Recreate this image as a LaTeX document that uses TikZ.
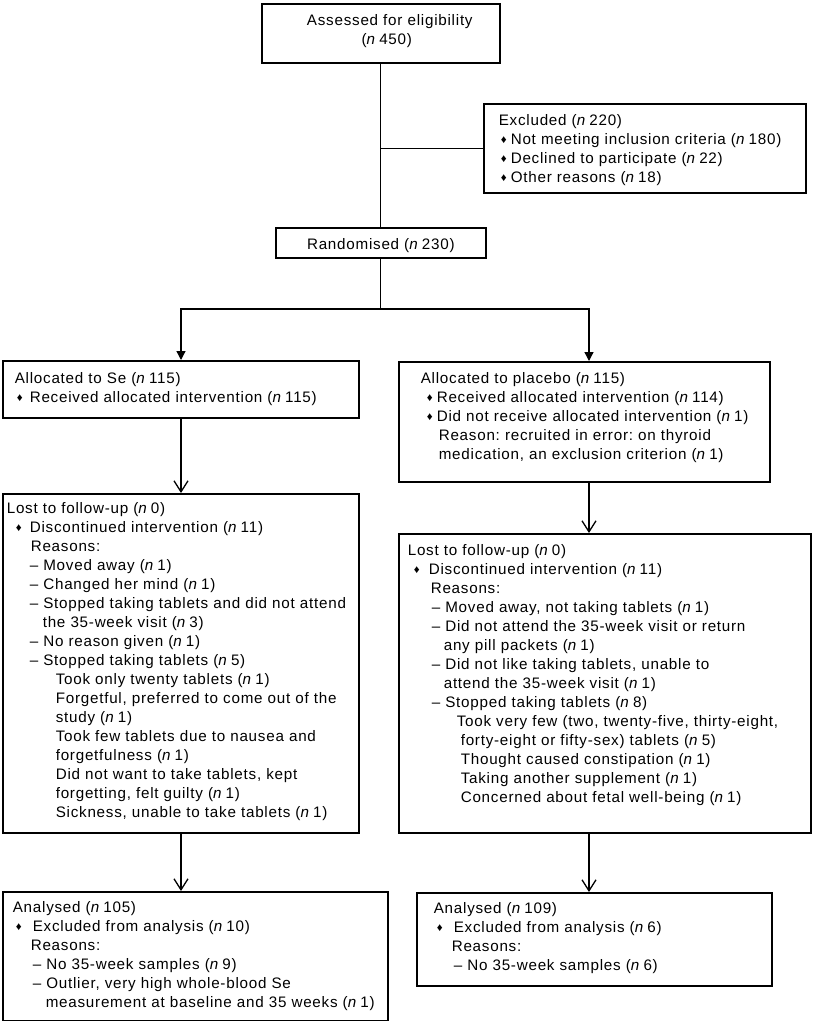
\documentclass[tikz,border=0pt]{standalone}
\usepackage{fontspec}
\setmainfont{Liberation Sans}[LetterSpace=5]
\usetikzlibrary{arrows.meta}
\frenchspacing
\newcommand{\flowfont}{\fontsize{15.2}{19}\selectfont}
\newcommand{\nval}[1]{(\textit{n}\hspace{0.22em}#1)}
\newcommand{\dmd}{{\fontsize{11.5}{11.5}\selectfont\raisebox{1pt}{♦}}}
\newcommand{\bul}[2]{\hspace*{#1pt}\makebox[#2pt][l]{\dmd}}
\newcommand{\indt}[1]{\hspace*{#1pt}}
\begin{document}
\begin{tikzpicture}[x=1pt, y=-1pt,
    box/.style={draw, line width=1.6pt, anchor=north west, inner ysep=0pt, font=\flowfont},
    link/.style={line width=1.3pt},
    filltip/.style={link, -{Triangle[length=9pt, width=9pt]}},
    opentip/.style={link, -{Straight Barb[length=11pt, width=14pt]}}]
  \useasboundingbox (0,0) rectangle (812,1021);
  \node[box, align=center, text width=238pt, inner xsep=0pt, text height=22pt, text depth=37pt]
    (elig) at (261,3) {\begin{tabular}[t]{@{}c@{}}\indt{18}Assessed for eligibility\\ \indt{12}\nval{450}\end{tabular}};
  \node[box, text width=292pt, inner xsep=15pt, text height=22pt, text depth=67pt]
    (excl) at (483,103) {\noindent\begin{tabular}[t]{@{}l@{}}
      Excluded \nval{220}\\
      \bul{2}{10}Not meeting inclusion criteria \nval{180}\\
      \bul{2}{10}Declined to participate \nval{22}\\
      \bul{2}{10}Other reasons \nval{18}
    \end{tabular}};
  \node[box, align=center, text width=210pt, inner xsep=0pt, text height=22pt, text depth=8pt]
    (rand) at (275,227) {\begin{tabular}[t]{@{}c@{}}Randomised \nval{230}\end{tabular}};
  \node[box, text width=332pt, inner xsep=12pt, text height=23pt, text depth=34pt]
    (se) at (2,360) {\noindent\begin{tabular}[t]{@{}l@{}}
      Allocated to Se \nval{115}\\
      \bul{2}{13}Received allocated intervention \nval{115}
    \end{tabular}};
  \node[box, text width=327pt, inner xsep=22pt, text height=22pt, text depth=98pt]
    (plac) at (398,361) {\noindent\begin{tabular}[t]{@{}l@{}}
      Allocated to placebo \nval{115}\\
      \bul{6}{10}Received allocated intervention \nval{114}\\
      \bul{6}{10}Did not receive allocated intervention \nval{1}\\
      \indt{18}Reason: recruited in error: on thyroid\\
      \indt{18}medication, an exclusion criterion \nval{1}
    \end{tabular}};
  \node[box, text width=348pt, inner xsep=4pt, text height=20pt, text depth=319pt]
    (lostse) at (2,493) {\noindent\begin{tabular}[t]{@{}l@{}}
      Lost to follow-up \nval{0}\\
      \bul{9}{14}Discontinued intervention \nval{11}\\
      \indt{24}Reasons:\\
      \indt{23}– Moved away \nval{1}\\
      \indt{23}– Changed her mind \nval{1}\\
      \indt{23}– Stopped taking tablets and did not attend\\
      \indt{36}the 35-week visit \nval{3}\\
      \indt{23}– No reason given \nval{1}\\
      \indt{23}– Stopped taking tablets \nval{5}\\
      \indt{49}Took only twenty tablets \nval{1}\\
      \indt{49}Forgetful, preferred to come out of the\\
      \indt{49}study \nval{1}\\
      \indt{49}Took few tablets due to nausea and\\
      \indt{49}forgetfulness \nval{1}\\
      \indt{49}Did not want to take tablets, kept\\
      \indt{49}forgetting, felt guilty \nval{1}\\
      \indt{49}Sickness, unable to take tablets \nval{1}
    \end{tabular}};
  \node[box, text width=394pt, inner xsep=9pt, text height=22pt, text depth=277pt]
    (lostpl) at (398,533) {\noindent\begin{tabular}[t]{@{}l@{}}
      Lost to follow-up \nval{0}\\
      \bul{6}{15}Discontinued intervention \nval{11}\\
      \indt{23}Reasons:\\
      \indt{24}– Moved away, not taking tablets \nval{1}\\
      \indt{24}– Did not attend the 35-week visit or return\\
      \indt{36}any pill packets \nval{1}\\
      \indt{24}– Did not like taking tablets, unable to\\
      \indt{36}attend the 35-week visit \nval{1}\\
      \indt{24}– Stopped taking tablets \nval{8}\\
      \indt{49}Took very few (two, twenty-five, thirty-eight,\\
      \indt{53}forty-eight or fifty-sex) tablets \nval{5}\\
      \indt{53}Thought caused constipation \nval{1}\\
      \indt{53}Taking another supplement \nval{1}\\
      \indt{53}Concerned about fetal well-being \nval{1}
    \end{tabular}};
  \node[box, text width=365pt, inner xsep=10pt, text height=21pt, text depth=108pt]
    (anse) at (2,891) {\noindent\begin{tabular}[t]{@{}l@{}}
      Analysed \nval{105}\\
      \bul{3}{17}Excluded from analysis \nval{10}\\
      \indt{18}Reasons:\\
      \indt{20}– No 35-week samples \nval{9}\\
      \indt{20}– Outlier, very high whole-blood Se\\
      \indt{33}measurement at baseline and 35 weeks \nval{1}
    \end{tabular}};
  \node[box, text width=321pt, inner xsep=17pt, text height=21pt, text depth=72pt]
    (anpl) at (416,892) {\noindent\begin{tabular}[t]{@{}l@{}}
      Analysed \nval{109}\\
      \bul{3}{17}Excluded from analysis \nval{6}\\
      \indt{18}Reasons:\\
      \indt{20}– No 35-week samples \nval{6}
    \end{tabular}};
  \coordinate (lcol) at (181,309);
  \coordinate (rcol) at (589,309);
  \coordinate (split) at (rand.south |- lcol);
  \draw[link] (elig.south) -- (rand.north);
  \draw[link] (elig.south |- excl.west) -- (excl.west);
  \draw[link] (rand.south) -- (split);
  \draw[filltip] (split) -- (lcol) -- (lcol |- se.north);
  \draw[filltip] (split) -- (rcol) -- (rcol |- plac.north);
  \draw[opentip] (lcol |- se.south) -- (lcol |- lostse.north);
  \draw[opentip] (rcol |- plac.south) -- (rcol |- lostpl.north);
  \draw[opentip] (lcol |- lostse.south) -- (lcol |- anse.north);
  \draw[opentip] (rcol |- lostpl.south) -- (rcol |- anpl.north);
\end{tikzpicture}
\end{document}
